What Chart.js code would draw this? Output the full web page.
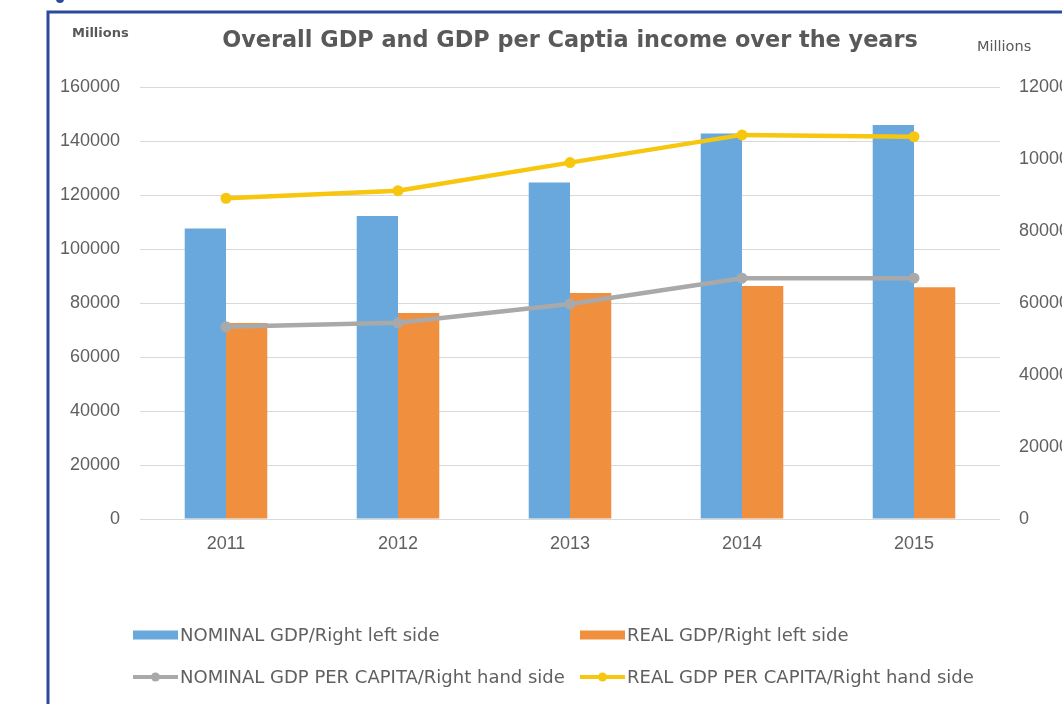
<!DOCTYPE html>
<html>
<head>
<meta charset="utf-8">
<script src="https://cdn.jsdelivr.net/npm/chart.js@4.4.1/dist/chart.umd.min.js"></script>
<style>
  html, body { margin: 0; padding: 0; background: #ffffff; }
  #wrap { width: 1062px; height: 704px; position: relative; }
</style>
</head>
<body>
<div id="wrap"><canvas id="c" width="1062" height="704"></canvas></div>
<script>
// ---- data ----
const years = ['2011', '2012', '2013', '2014', '2015'];
const nominalGDP = [107600, 112200, 124600, 142800, 145900];
const realGDP = [72600, 76300, 83700, 86300, 85800];
const nominalPerCapita = [53400, 54500, 59700, 66900, 66900];
const realPerCapita = [89100, 91200, 99000, 106700, 106200];
const seriesNames = [
  'NOMINAL GDP/Right left side',
  'REAL GDP/Right left side',
  'NOMINAL GDP PER CAPITA/Right hand side',
  'REAL GDP PER CAPITA/Right hand side'
];
const titleText = 'Overall GDP and GDP per Captia income over the years';
const leftUnit = 'Millions';
const rightUnit = 'Millions';

// ---- styles ----
const BLUE = '#68a8dc';
const ORANGE = '#f0903f';
const GRAY = '#a9a9a9';
const YELLOW = '#f7c60e';
const TEXT = '#606060';
const FRAME = '#2c4a9c';

const decor = {
  id: 'decor',
  beforeDraw(chart) {
    const ctx = chart.ctx;
    ctx.save();
    ctx.fillStyle = '#ffffff';
    ctx.fillRect(0, 0, chart.width, chart.height);
    // frame
    ctx.strokeStyle = FRAME;
    ctx.lineWidth = 3;
    ctx.beginPath();
    ctx.moveTo(48, chart.height + 5);
    ctx.lineTo(48, 12);
    ctx.lineTo(chart.width + 5, 12);
    ctx.stroke();
    ctx.fillStyle = FRAME;
    ctx.beginPath();
    ctx.arc(60, -1, 4, 0, Math.PI * 2);
    ctx.fill();
    ctx.restore();
  },
  afterDraw(chart) {
    const ctx = chart.ctx;
    ctx.save();
    ctx.textBaseline = 'middle';
    // title
    ctx.fillStyle = '#595959';
    ctx.font = 'bold 22.4px "DejaVu Sans"';
    ctx.textAlign = 'center';
    ctx.fillText(titleText, 570, 41);
    // unit labels
    ctx.textAlign = 'left';
    ctx.font = 'bold 13px "DejaVu Sans"';
    ctx.fillStyle = '#595959';
    ctx.fillText(leftUnit, 72, 34);
    ctx.font = '14.5px "DejaVu Sans"';
    ctx.fillText(rightUnit, 977, 47);
    // legend
    const ds = chart.data.datasets;
    const cols = [133, 580];
    const rows = [635, 677];
    ctx.font = '18px "DejaVu Sans"';
    ds.forEach((d, i) => {
      const x = cols[i % 2];
      const y = rows[Math.floor(i / 2)];
      if (d.type === 'bar') {
        ctx.fillStyle = d.backgroundColor;
        ctx.fillRect(x, y - 4.5, 45, 9);
      } else {
        ctx.strokeStyle = d.borderColor;
        ctx.lineWidth = 4;
        ctx.beginPath();
        ctx.moveTo(x, y);
        ctx.lineTo(x + 45, y);
        ctx.stroke();
        ctx.fillStyle = d.borderColor;
        ctx.beginPath();
        ctx.arc(x + 22.5, y, 4.5, 0, Math.PI * 2);
        ctx.fill();
      }
      ctx.fillStyle = TEXT;
      ctx.fillText(d.label, x + 47, y + 1);
    });
    ctx.restore();
  }
};

const plain = v => String(v);

new Chart(document.getElementById('c'), {
  data: {
    labels: years,
    datasets: [
      { type: 'bar', label: seriesNames[0], data: nominalGDP, backgroundColor: BLUE, yAxisID: 'y', order: 2,
        categoryPercentage: 0.48, barPercentage: 1.0 },
      { type: 'bar', label: seriesNames[1], data: realGDP, backgroundColor: ORANGE, yAxisID: 'y', order: 2,
        categoryPercentage: 0.48, barPercentage: 1.0 },
      { type: 'line', label: seriesNames[2], data: nominalPerCapita, borderColor: GRAY, backgroundColor: GRAY,
        yAxisID: 'y1', order: 1, borderWidth: 4.5, pointRadius: 5.5, pointBackgroundColor: GRAY,
        pointBorderWidth: 0, tension: 0 },
      { type: 'line', label: seriesNames[3], data: realPerCapita, borderColor: YELLOW, backgroundColor: YELLOW,
        yAxisID: 'y1', order: 0, borderWidth: 4.5, pointRadius: 5.5, pointBackgroundColor: YELLOW,
        pointBorderWidth: 0, tension: 0 }
    ]
  },
  options: {
    responsive: false,
    animation: false,
    devicePixelRatio: 1,
    layout: { padding: { top: 87, left: 0, right: 0, bottom: 0 } },
    plugins: { legend: { display: false }, title: { display: false }, tooltip: { enabled: false } },
    scales: {
      x: {
        offset: true,
        grid: { display: false, drawTicks: false },
        border: { display: false },
        ticks: { color: TEXT, font: { family: 'Liberation Sans', size: 18 }, padding: 14 },
        afterFit(s) { s.height = 704 - 519; }
      },
      y: {
        position: 'left',
        min: 0, max: 160000,
        ticks: { stepSize: 20000, color: TEXT, font: { family: 'Liberation Sans', size: 18 }, padding: 20, callback: plain },
        grid: { color: '#d9d9d9', lineWidth: 1, drawTicks: false },
        border: { display: false },
        afterFit(s) { s.width = 140; }
      },
      y1: {
        position: 'right',
        min: 0, max: 120000,
        ticks: { stepSize: 20000, color: TEXT, font: { family: 'Liberation Sans', size: 18 }, padding: 19, callback: plain },
        grid: { drawOnChartArea: false, drawTicks: false },
        border: { display: false },
        afterFit(s) { s.width = 62; }
      }
    }
  },
  plugins: [decor]
});
</script>
</body>
</html>
